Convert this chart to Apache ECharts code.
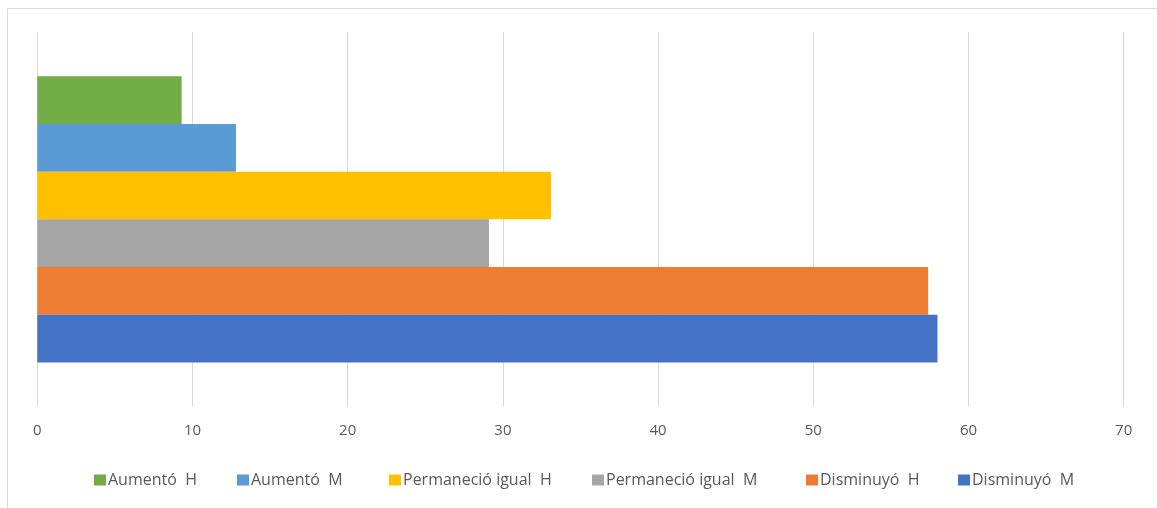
<!DOCTYPE html>
<html>
<head>
<meta charset="utf-8">
<script src="https://cdn.jsdelivr.net/npm/echarts@6/dist/echarts.min.js"></script>
<style>html,body{margin:0;padding:0;background:#fff}#c{width:1157px;height:508px}</style>
</head>
<body>
<div id="c"></div>
<script>
const categories = [''];
const seriesNames = ['Aumentó  H', 'Aumentó  M', 'Permaneció igual  H', 'Permaneció igual  M', 'Disminuyó  H', 'Disminuyó  M'];
const seriesValues = [9.3, 12.8, 33.1, 29.1, 57.4, 58.0];
const seriesColors = ['#70AD47', '#5B9BD5', '#FFC000', '#A5A5A5', '#ED7D31', '#4472C4'];
const xTicks = { min: 0, max: 70, interval: 10 };
const legendLeft = [89, 232, 384, 587, 801, 953];

const chart = echarts.init(document.getElementById('c'), null, { renderer: 'canvas' });
const font = 'Open Sans, Noto Sans, sans-serif';
chart.setOption({
  animation: false,
  backgroundColor: '#fff',
  graphic: [{
    type: 'rect', silent: true,
    shape: { x: 7.5, y: 8.5, width: 1300, height: 700 },
    style: { fill: 'none', stroke: '#d9d9d9', lineWidth: 1 }
  }],
  grid: { left: 37.3, right: 33.3, top: 32, bottom: 101.3, containLabel: false },
  legend: seriesNames.map((n, i) => ({
    data: [n],
    left: legendLeft[i], top: 467,
    icon: 'rect', itemWidth: 12, itemHeight: 11, itemGap: 0,
    textStyle: { color: '#595959', fontSize: 16, fontFamily: font, padding: [0, 0, 0, -3] }
  })),
  xAxis: {
    type: 'value', min: xTicks.min, max: xTicks.max, interval: xTicks.interval,
    axisLine: { show: false }, axisTick: { show: false },
    axisLabel: { color: '#595959', fontSize: 15, fontFamily: font, margin: 17 },
    splitLine: { show: true, lineStyle: { color: '#d9d9d9', width: 1 } }
  },
  yAxis: {
    type: 'category', data: categories, inverse: true,
    axisLine: { show: false }, axisTick: { show: false }, axisLabel: { show: false },
    splitLine: { show: false }
  },
  series: seriesNames.map((n, i) => ({
    name: n, type: 'bar', data: [seriesValues[i]],
    itemStyle: { color: seriesColors[i] },
    barGap: '0%', barCategoryGap: '23.6%'
  }))
});
</script>
</body>
</html>
